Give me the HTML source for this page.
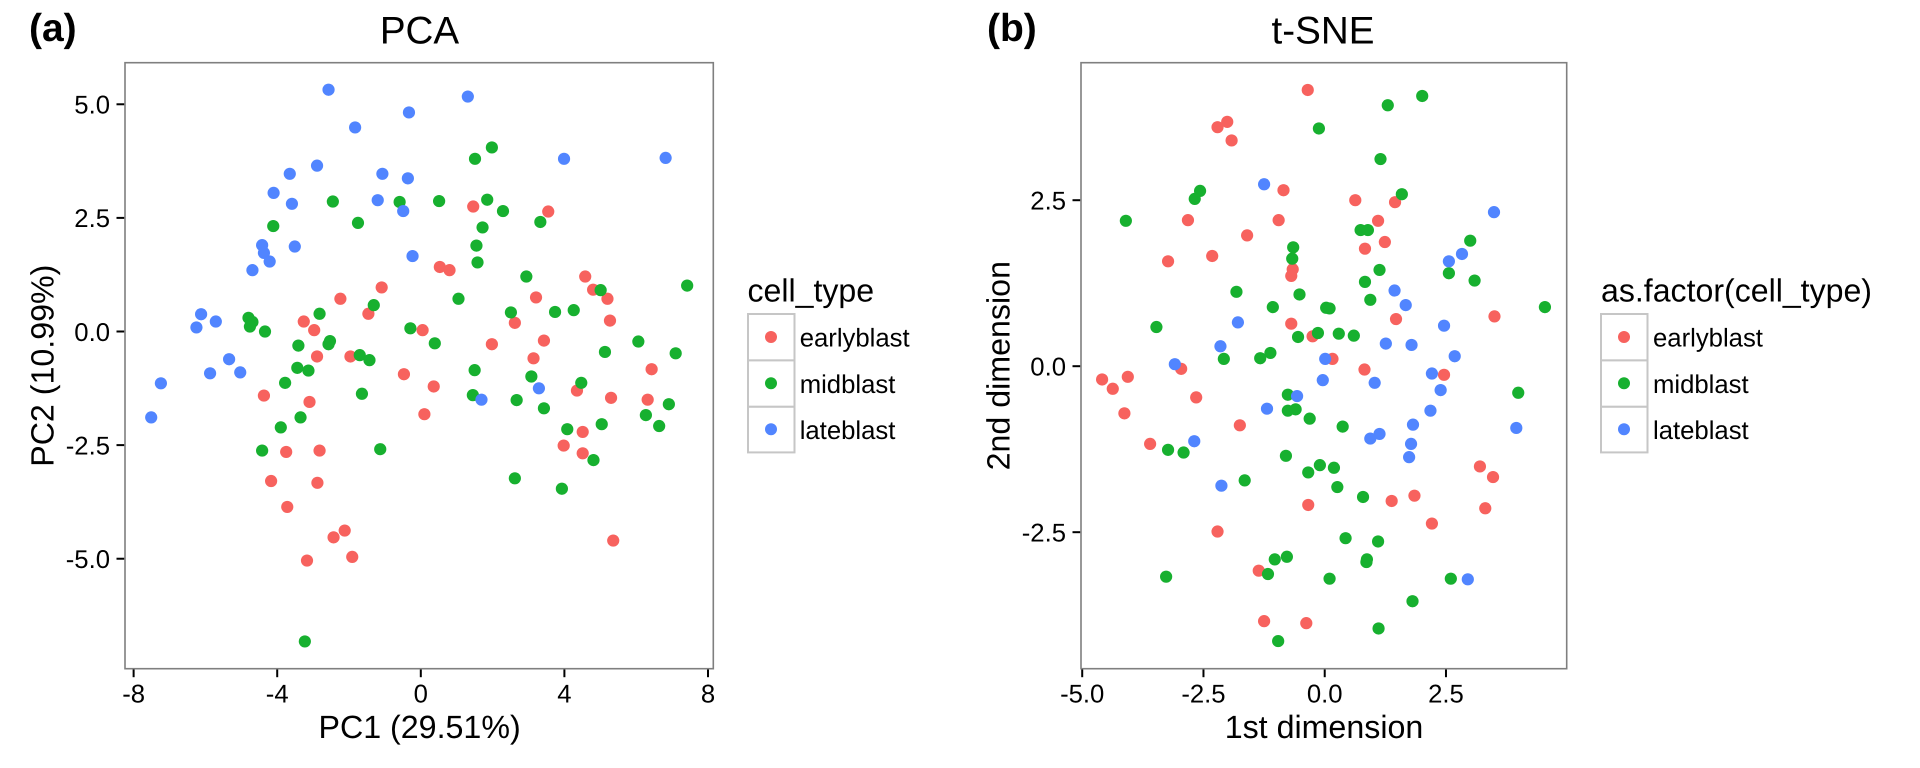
<!DOCTYPE html>
<html lang="en">
<head>
<meta charset="utf-8">
<title>PCA and t-SNE of cell types</title>
<style>
html,body{margin:0;padding:0;background:#fff;}
svg{display:block;font-family:"Liberation Sans",Arial,sans-serif;text-rendering:geometricPrecision;}
.tick-label{font-size:25.7px;fill:#000;}
.axis-title{font-size:32.2px;fill:#000;}
.legend-title{font-size:32.1px;fill:#000;}
.legend-label{font-size:25.7px;fill:#000;}
.plot-title{font-size:38.6px;fill:#000;}
.panel-tag{font-size:39px;font-weight:bold;fill:#000;}
</style>
</head>
<body>
<svg id="figure" xmlns="http://www.w3.org/2000/svg" width="1920" height="768" viewBox="0 0 1920 768">
  <rect x="0" y="0" width="1920" height="768" fill="#fff"/>

  <text class="panel-tag" x="29" y="41">(a)</text>
  <text class="plot-title" x="419.5" y="43.5" text-anchor="middle">PCA</text>
  <text class="axis-title" x="419.6" y="738" text-anchor="middle">PC1 (29.51%)</text>
  <text class="axis-title" transform="translate(53.5,365.7) rotate(-90)" text-anchor="middle">PC2 (10.99%)</text>
  <g id="pca-axes"></g>
  <g id="pca-points"></g>

  <text class="panel-tag" x="987" y="41">(b)</text>
  <text class="plot-title" x="1323" y="43.5" text-anchor="middle">t-SNE</text>
  <text class="axis-title" x="1324" y="738" text-anchor="middle">1st dimension</text>
  <text class="axis-title" transform="translate(1009.5,365.7) rotate(-90)" text-anchor="middle">2nd dimension</text>
  <g id="tsne-axes"></g>
  <g id="tsne-points"></g>

  <g>
    <text class="legend-title" x="747.5" y="301.5">cell_type</text>
    <rect x="748" y="314" width="46.5" height="46.4" fill="#fff" stroke="#c6c6c6" stroke-width="2"/>
    <rect x="748" y="360.4" width="46.5" height="46.4" fill="#fff" stroke="#c6c6c6" stroke-width="2"/>
    <rect x="748" y="406.8" width="46.5" height="45.6" fill="#fff" stroke="#c6c6c6" stroke-width="2"/>
    <circle cx="771" cy="337" r="6" fill="#F7625E"/>
    <circle cx="771" cy="383.2" r="6" fill="#17B02F"/>
    <circle cx="771" cy="429.3" r="6" fill="#5185FF"/>
    <text class="legend-label" x="799.7" y="346.5">earlyblast</text>
    <text class="legend-label" x="799.7" y="392.8">midblast</text>
    <text class="legend-label" x="799.7" y="439">lateblast</text>
  </g>

  <g>
    <text class="legend-title" x="1601" y="301.5">as.factor(cell_type)</text>
    <rect x="1601" y="314" width="46.5" height="46.4" fill="#fff" stroke="#c6c6c6" stroke-width="2"/>
    <rect x="1601" y="360.4" width="46.5" height="46.4" fill="#fff" stroke="#c6c6c6" stroke-width="2"/>
    <rect x="1601" y="406.8" width="46.5" height="45.6" fill="#fff" stroke="#c6c6c6" stroke-width="2"/>
    <circle cx="1624" cy="337" r="6" fill="#F7625E"/>
    <circle cx="1624" cy="383.2" r="6" fill="#17B02F"/>
    <circle cx="1624" cy="429.3" r="6" fill="#5185FF"/>
    <text class="legend-label" x="1653" y="346.5">earlyblast</text>
    <text class="legend-label" x="1653" y="392.8">midblast</text>
    <text class="legend-label" x="1653" y="439">lateblast</text>
  </g>
</svg>

<script>
var pcaXTicks = [-8, -4, 0, 4, 8];
var pcaYTicks = [-5, -2.5, 0, 2.5, 5];
var tsneXTicks = [-5, -2.5, 0, 2.5];
var tsneYTicks = [-2.5, 0, 2.5];

var pcaEarlyX = [1.46,0.53,0.80,-1.09,-2.24,-1.46,-3.26,-2.97,0.05,-2.89,-1.96,-0.47,0.36,-4.37,-3.10,0.10,-3.75,-2.82,-4.17,-2.88,-3.72,-2.12,-2.43,-1.91,-3.17,3.55,4.58,4.80,5.20,3.21,5.27,2.62,3.43,1.98,3.14,6.43,4.35,5.30,6.32,4.51,3.98,4.51,5.36];
var pcaEarlyY = [2.75,1.42,1.35,0.97,0.72,0.39,0.22,0.03,0.03,-0.55,-0.55,-0.94,-1.21,-1.41,-1.55,-1.82,-2.65,-2.62,-3.29,-3.33,-3.86,-4.38,-4.53,-4.96,-5.04,2.64,1.21,0.92,0.72,0.75,0.24,0.19,-0.20,-0.28,-0.59,-0.83,-1.30,-1.46,-1.50,-2.21,-2.51,-2.68,-4.60];

var pcaMidX = [1.51,-0.59,0.51,-2.45,-1.75,-4.11,1.72,1.55,1.58,1.05,-1.31,-2.82,-4.80,-4.69,-4.76,-4.34,-0.29,-2.53,-2.57,0.39,-3.41,-1.70,-1.43,-3.44,-3.13,1.50,-3.78,-1.64,1.45,-3.35,-3.90,-4.42,-1.13,-3.23,1.98,1.85,2.29,3.33,2.94,5.01,7.42,2.51,3.74,4.26,6.06,5.13,7.10,3.08,4.47,2.67,6.91,3.43,6.27,5.04,6.64,4.08,4.81,2.62,3.93];
var pcaMidY = [3.80,2.85,2.87,2.86,2.39,2.32,2.29,1.89,1.52,0.72,0.58,0.39,0.30,0.21,0.11,0.00,0.07,-0.21,-0.28,-0.26,-0.31,-0.52,-0.63,-0.80,-0.86,-0.85,-1.13,-1.37,-1.40,-1.89,-2.11,-2.62,-2.59,-6.82,4.05,2.90,2.65,2.41,1.21,0.91,1.01,0.42,0.43,0.47,-0.22,-0.45,-0.48,-0.99,-1.13,-1.51,-1.60,-1.69,-1.84,-2.04,-2.08,-2.15,-2.83,-3.23,-3.46];

var pcaLateX = [-2.57,1.31,-0.33,-1.83,-2.89,-3.65,-1.07,-0.36,-4.10,-3.59,-1.20,-0.49,-3.51,-4.42,-4.37,-4.21,-4.69,-0.23,-6.12,-6.25,-5.71,-5.34,-5.87,-5.03,-7.24,-7.51,1.69,3.29,3.99,6.82];
var pcaLateY = [5.32,5.17,4.82,4.49,3.65,3.47,3.47,3.37,3.05,2.81,2.89,2.65,1.87,1.90,1.73,1.54,1.35,1.66,0.38,0.09,0.22,-0.61,-0.92,-0.90,-1.14,-1.89,-1.50,-1.25,3.80,3.82];

var tsneEarlyX = [-0.35,-2.01,-2.21,-1.92,-0.85,0.63,1.45,-2.82,-0.95,1.10,-1.60,1.24,0.83,-2.32,-3.23,-0.66,-0.69,1.47,-0.69,-0.25,0.16,-2.96,0.82,-4.59,-4.06,-4.37,2.46,-2.65,-4.13,-1.75,-3.60,-0.34,1.38,1.85,2.21,-2.21,-1.36,-1.25,-0.38,3.50,3.20,3.47,3.31];
var tsneEarlyY = [4.16,3.68,3.60,3.40,2.65,2.50,2.47,2.20,2.20,2.19,1.97,1.87,1.77,1.66,1.58,1.46,1.36,0.71,0.64,0.45,0.11,-0.04,-0.05,-0.20,-0.16,-0.34,-0.13,-0.47,-0.71,-0.89,-1.17,-2.09,-2.03,-1.95,-2.37,-2.49,-3.08,-3.84,-3.87,0.75,-1.51,-1.67,-2.14];

var tsneMidX = [2.01,1.30,-0.12,1.15,1.59,-2.57,-2.68,-4.10,0.74,0.89,-0.65,-0.67,1.13,0.83,-1.82,-0.52,0.94,-1.07,0.03,0.10,-3.47,-0.14,-0.55,0.29,0.60,-1.12,-1.33,-2.08,-0.76,-0.76,-0.60,-0.31,0.37,-3.23,-2.91,-0.80,-0.10,-0.34,0.19,-1.65,0.26,0.79,0.43,1.10,-0.78,-1.03,0.87,0.86,-1.17,0.10,-3.27,1.81,1.11,-0.96,3.00,2.56,3.09,4.54,3.99,2.60];
var tsneMidY = [4.07,3.93,3.58,3.12,2.59,2.64,2.52,2.19,2.05,2.05,1.79,1.62,1.45,1.27,1.12,1.08,1.00,0.89,0.88,0.87,0.59,0.50,0.44,0.49,0.46,0.20,0.12,0.11,-0.43,-0.67,-0.65,-0.79,-0.91,-1.26,-1.30,-1.35,-1.49,-1.60,-1.53,-1.72,-1.82,-1.97,-2.59,-2.64,-2.87,-2.91,-2.91,-2.95,-3.13,-3.20,-3.17,-3.54,-3.95,-4.14,1.89,1.40,1.29,0.89,-0.40,-3.20];

var tsneLateX = [-1.25,1.44,1.67,-1.79,2.46,1.26,1.79,-2.15,-3.09,0.01,2.21,-0.04,1.03,-0.57,-1.19,2.18,1.82,1.13,0.94,-2.69,1.78,1.74,-2.13,2.39,3.49,2.83,2.56,2.68,3.95,2.95];
var tsneLateY = [2.74,1.14,0.92,0.66,0.61,0.34,0.32,0.30,0.03,0.11,-0.11,-0.21,-0.25,-0.45,-0.64,-0.67,-0.88,-1.02,-1.09,-1.13,-1.17,-1.37,-1.80,-0.36,2.32,1.69,1.58,0.15,-0.93,-3.21];

var earlyColor = "#F7625E";
var midColor = "#17B02F";
var lateColor = "#5185FF";
var SVGNS = "http://www.w3.org/2000/svg";

function linearScale(domainMin, domainMax, rangeMin, rangeMax) {
  return function (v) {
    return rangeMin + (v - domainMin) / (domainMax - domainMin) * (rangeMax - rangeMin);
  };
}

function drawSeries(group, prefix, label, xs, ys, sx, sy, color) {
  for (var i = 0; i < xs.length; i++) {
    var el = document.createElementNS(SVGNS, "circle");
    
    
    el.setAttribute("cx", sx(xs[i]));
    el.setAttribute("cy", sy(ys[i]));
    el.setAttribute("r", 6.1);
    el.setAttribute("fill", color);
    group.appendChild(el);
  }
}

function drawAxes(group, prefix, box, sx, sy, xTicks, yTicks, xFmt, yFmt) {
  var frame = document.createElementNS(SVGNS, "rect");
  
  
  frame.setAttribute("x", box.left);
  frame.setAttribute("y", box.top);
  frame.setAttribute("width", box.right - box.left);
  frame.setAttribute("height", box.bottom - box.top);
  frame.setAttribute("fill", "#fff");
  frame.setAttribute("stroke", "#7f7f7f");
  frame.setAttribute("stroke-width", 1.6);
  group.appendChild(frame);

  xTicks.forEach(function (t) {
    var x = sx(t);
    var mark = document.createElementNS(SVGNS, "line");
    
    
    mark.setAttribute("x1", x);
    mark.setAttribute("x2", x);
    mark.setAttribute("y1", box.bottom + 0.8);
    mark.setAttribute("y2", box.bottom + 8.5);
    mark.setAttribute("stroke", "#000");
    mark.setAttribute("stroke-width", 2);
    group.appendChild(mark);
    var txt = document.createElementNS(SVGNS, "text");
    
    
    txt.setAttribute("class", "tick-label");
    txt.setAttribute("x", x);
    txt.setAttribute("y", box.bottom + 34);
    txt.setAttribute("text-anchor", "middle");
    txt.textContent = xFmt(t);
    group.appendChild(txt);
  });

  yTicks.forEach(function (t) {
    var y = sy(t);
    var mark = document.createElementNS(SVGNS, "line");
    
    
    mark.setAttribute("x1", box.left - 8.5);
    mark.setAttribute("x2", box.left - 0.8);
    mark.setAttribute("y1", y);
    mark.setAttribute("y2", y);
    mark.setAttribute("stroke", "#000");
    mark.setAttribute("stroke-width", 2);
    group.appendChild(mark);
    var txt = document.createElementNS(SVGNS, "text");
    
    
    txt.setAttribute("class", "tick-label");
    txt.setAttribute("x", box.left - 15);
    txt.setAttribute("y", y + 9.3);
    txt.setAttribute("text-anchor", "end");
    txt.textContent = yFmt(t);
    group.appendChild(txt);
  });
}

function plainLabel(t) { return String(t); }
function oneDecimal(t) { return t.toFixed(1); }

var pcaBox = { left: 125, right: 713.3, top: 62.7, bottom: 668.7 };
var pcaSx = linearScale(-8.24, 8.148, pcaBox.left, pcaBox.right);
var pcaSy = linearScale(-7.42, 5.915, pcaBox.bottom, pcaBox.top);
drawAxes(document.getElementById("pca-axes"), "pca", pcaBox, pcaSx, pcaSy, pcaXTicks, pcaYTicks, plainLabel, oneDecimal);
var pcaGroup = document.getElementById("pca-points");
drawSeries(pcaGroup, "pca", "earlyblast", pcaEarlyX, pcaEarlyY, pcaSx, pcaSy, earlyColor);
drawSeries(pcaGroup, "pca", "midblast", pcaMidX, pcaMidY, pcaSx, pcaSy, midColor);
drawSeries(pcaGroup, "pca", "lateblast", pcaLateX, pcaLateY, pcaSx, pcaSy, lateColor);

var tsneBox = { left: 1081, right: 1566.7, top: 62.7, bottom: 668.7 };
var tsneSx = linearScale(-5.025, 4.989, tsneBox.left, tsneBox.right);
var tsneSy = linearScale(-4.556, 4.571, tsneBox.bottom, tsneBox.top);
drawAxes(document.getElementById("tsne-axes"), "tsne", tsneBox, tsneSx, tsneSy, tsneXTicks, tsneYTicks, oneDecimal, oneDecimal);
var tsneGroup = document.getElementById("tsne-points");
drawSeries(tsneGroup, "tsne", "earlyblast", tsneEarlyX, tsneEarlyY, tsneSx, tsneSy, earlyColor);
drawSeries(tsneGroup, "tsne", "midblast", tsneMidX, tsneMidY, tsneSx, tsneSy, midColor);
drawSeries(tsneGroup, "tsne", "lateblast", tsneLateX, tsneLateY, tsneSx, tsneSy, lateColor);
</script>
</body>
</html>
